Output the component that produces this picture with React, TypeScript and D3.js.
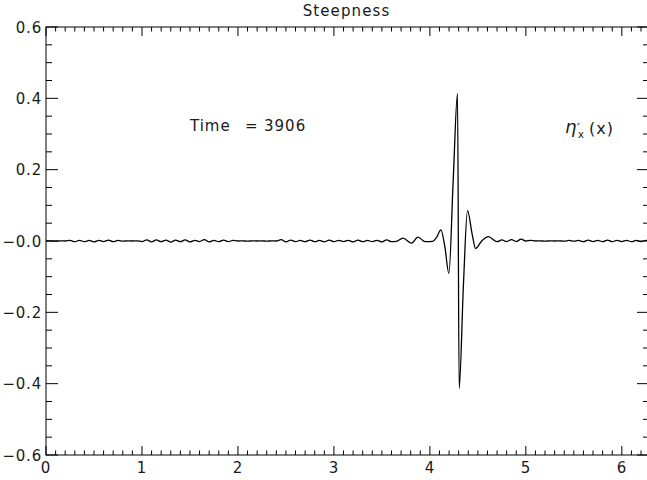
import React from "react";
import * as d3 from "d3";

// Surface steepness profile eta'_x(x) sampled along the periodic domain [0, 2π]
const waveX: number[] = [
  0.0, 0.05, 0.1, 0.15, 0.2, 0.25, 0.3, 0.35, 0.4, 0.45, 0.5, 0.55, 0.6, 0.65, 0.7, 0.75,
  0.8, 0.85, 0.9, 0.95, 1.0, 1.05, 1.1, 1.15, 1.2, 1.25, 1.3, 1.35, 1.4, 1.45, 1.5, 1.55,
  1.6, 1.65, 1.7, 1.75, 1.8, 1.85, 1.9, 1.95, 2.0, 2.05, 2.1, 2.15, 2.2, 2.25, 2.3, 2.35,
  2.4, 2.45, 2.5, 2.55, 2.6, 2.65, 2.7, 2.75, 2.8, 2.85, 2.9, 2.95, 3.0, 3.05, 3.1, 3.15,
  3.2, 3.25, 3.3, 3.35, 3.4, 3.45, 3.5, 3.55, 3.6, 3.65, 3.72, 3.81, 3.875, 3.95, 4.03,
  4.07, 4.115, 4.156, 4.198, 4.243, 4.288, 4.305, 4.35, 4.392, 4.44, 4.476, 4.54, 4.61,
  4.7, 4.75, 4.8, 4.85, 4.9, 4.95, 5.0, 5.05, 5.1, 5.15, 5.2, 5.25, 5.3, 5.35, 5.4, 5.45,
  5.5, 5.55, 5.6, 5.65, 5.7, 5.75, 5.8, 5.85, 5.9, 5.95, 6.0, 6.05, 6.1, 6.15, 6.2, 6.25,
  6.2832,
];
const waveY: number[] = [
  0.0, 0.0005, -0.0005, 0.0005, 0.0, 0.0015, -0.002, 0.002, -0.002, 0.0015, -0.0025, 0.002, -0.0015, 0.0025, -0.002, 0.0015,
  -0.0005, 0.0005, 0.0, 0.0005, -0.0015, 0.003, -0.0025, 0.003, -0.002, 0.0025, -0.003, 0.0025, -0.002, 0.003, -0.0025, 0.002,
  -0.0015, 0.004, -0.0025, 0.002, -0.002, 0.0025, -0.0015, 0.0015, 0.0, 0.0005, -0.0005, 0.0005, 0.0, 0.0005, -0.0005, 0.0005,
  0.0, 0.004, -0.0025, 0.0025, -0.0015, 0.0015, -0.002, 0.0025, -0.002, 0.0015, -0.0025, 0.0025, -0.002, 0.002, -0.0015, 0.002,
  -0.0025, 0.0025, -0.002, 0.0015, -0.0015, 0.002, -0.0025, 0.003, -0.002, -0.001, 0.008, -0.006, 0.011, -0.002, -0.001,
  0.01, 0.031, -0.016, -0.091, 0.17, 0.414, -0.413, -0.12, 0.085, 0.02, -0.021, 0.0, 0.012,
  -0.002, 0.003, -0.0015, 0.004, -0.0015, 0.005, 0.0, 0.0015, 0.0, 0.0005, -0.0005, 0.0005, 0.0, 0.0005, -0.0005, 0.0015,
  -0.0005, 0.0015, -0.002, 0.0025, -0.0015, 0.002, -0.002, 0.0025, -0.002, 0.002, -0.0015, 0.002, -0.002, 0.0015, -0.0015, 0.0015,
  0.0,
];

const xTickValues: number[] = [0, 1, 2, 3, 4, 5, 6];
const xTickLabels: string[] = ["0", "1", "2", "3", "4", "5", "6"];
const yTickValues: number[] = [0.6, 0.4, 0.2, 0.0, -0.2, -0.4, -0.6];
const yTickLabels: string[] = ["0.6", "0.4", "0.2", "\u22120.0", "\u22120.2", "\u22120.4", "\u22120.6"];

const W = 647;
const H = 480;
const left = 46;
const right = 649;
const top = 27;
const bottom = 455;
const font = "'DejaVu Sans', 'Liberation Sans', sans-serif";
const ink = "#1a1a1a";

export default function App() {
  const x = d3.scaleLinear().domain([0, 2 * Math.PI]).range([left, right]);
  const y = d3.scaleLinear().domain([-0.6, 0.6]).range([bottom, top]);

  const pts: [number, number][] = waveX.map((v, i) => [v, waveY[i]]);
  const line = d3
    .line<[number, number]>()
    .x((d) => x(d[0]))
    .y((d) => y(d[1]))
    .curve(d3.curveMonotoneX);

  const xMinor = d3.range(0, 2 * Math.PI, 0.1).filter((v) => Math.abs(v - Math.round(v)) > 1e-6);
  const yMinor = d3.range(-0.6, 0.6001, 0.05).filter((v) => Math.abs(v / 0.2 - Math.round(v / 0.2)) > 1e-6);

  const xMajLen = 9;
  const xMinLen = 4.5;
  const yMajLen = 12;
  const yMinLen = 6;

  return (
    <svg
      width={W}
      height={H}
      viewBox={`0 0 ${W} ${H}`}
      style={{ position: "absolute", left: 0, top: 0, background: "#fff" }}
    >
      <defs>
        <clipPath id="plotArea">
          <rect x={left} y={top} width={right - left} height={bottom - top} />
        </clipPath>
      </defs>
      <rect x={0} y={0} width={W} height={H} fill="#fff" />

      {/* frame */}
      <rect x={left} y={top} width={right - left} height={bottom - top} fill="none" stroke="#000" strokeWidth={1} />

      {/* x ticks, bottom and top; y ticks, left and right */}
      <g stroke="#000" strokeWidth={1}>
        {xTickValues.map((v) => (
          <g key={`xm${v}`}>
            <line x1={x(v)} x2={x(v)} y1={bottom} y2={bottom - xMajLen} />
            <line x1={x(v)} x2={x(v)} y1={top} y2={top + xMajLen} />
          </g>
        ))}
        {xMinor.map((v) => (
          <g key={`xn${v}`}>
            <line x1={x(v)} x2={x(v)} y1={bottom} y2={bottom - xMinLen} />
            <line x1={x(v)} x2={x(v)} y1={top} y2={top + xMinLen} />
          </g>
        ))}
        {yTickValues.map((v) => (
          <g key={`ym${v}`}>
            <line x1={left} x2={left + yMajLen} y1={y(v)} y2={y(v)} />
            <line x1={right} x2={right - yMajLen} y1={y(v)} y2={y(v)} />
          </g>
        ))}
        {yMinor.map((v) => (
          <g key={`yn${v}`}>
            <line x1={left} x2={left + yMinLen} y1={y(v)} y2={y(v)} />
            <line x1={right} x2={right - yMinLen} y1={y(v)} y2={y(v)} />
          </g>
        ))}
      </g>

      {/* tick labels */}
      <g fontFamily={font} fontSize={15} fill={ink} letterSpacing={0.8}>
        {xTickValues.map((v, i) => (
          <text key={`xl${v}`} x={x(v)} y={473} textAnchor="middle">
            {xTickLabels[i]}
          </text>
        ))}
        {yTickValues.map((v, i) => (
          <text key={`yl${v}`} x={42} y={y(v) + 5.5} textAnchor="end">
            {yTickLabels[i]}
          </text>
        ))}
      </g>

      {/* title */}
      <text
        x={(left + right) / 2 - 1}
        y={16}
        textAnchor="middle"
        fontFamily={font}
        fontSize={15}
        letterSpacing={1.1}
        fill={ink}
      >
        Steepness
      </text>

      {/* annotations */}
      <g fontFamily={font} fontSize={15} fill={ink} letterSpacing={1}>
        <text x={190} y={131}>Time</text>
        <text x={245} y={131}>=</text>
        <text x={264} y={131}>3906</text>
      </g>
      <g fontFamily={font} fill={ink}>
        <text x={565} y={133} fontSize={18} fontStyle="italic">{"\u03b7"}</text>
        <text x={577} y={132} fontSize={13}>{"\u2032"}</text>
        <text x={578} y={138} fontSize={10}>x</text>
        <text x={589} y={134} fontSize={16} letterSpacing={1}>(x)</text>
      </g>

      {/* curve */}
      <path
        d={line(pts) ?? ""}
        fill="none"
        stroke="#000"
        strokeWidth={1.3}
        strokeLinejoin="round"
        clipPath="url(#plotArea)"
      />
    </svg>
  );
}
